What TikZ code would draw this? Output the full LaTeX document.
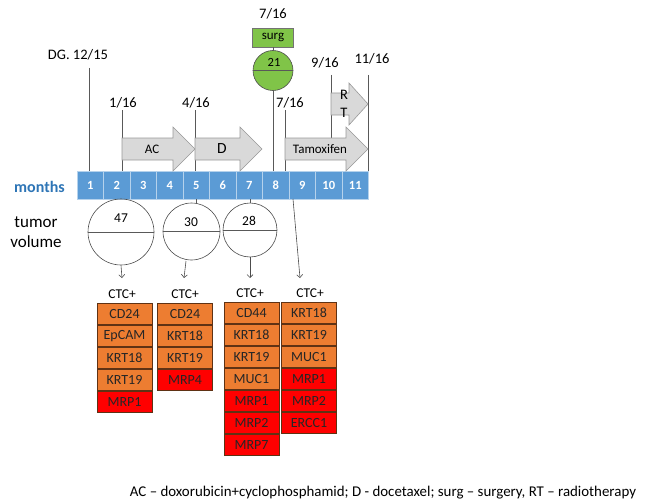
\documentclass[tikz,border=0pt]{standalone}
\usepackage{fontspec}
\setmainfont{Carlito}
\usetikzlibrary{arrows.meta,positioning}
\definecolor{barblue}{RGB}{91,155,213}
\definecolor{monthblue}{RGB}{46,117,182}
\definecolor{org}{RGB}{237,125,49}
\definecolor{redm}{RGB}{255,0,0}
\definecolor{surggreen}{RGB}{128,196,72}
\begin{document}
\begin{tikzpicture}[x=1pt,y=-1pt,
  lbl/.style={font=\fontsize{14.5}{14.5}\selectfont, inner sep=0},
  cell/.style={minimum width=26.5pt, minimum height=28pt, fill=barblue, draw=white!55!barblue, line width=0.6pt, text=white, font=\bfseries\fontsize{12.5}{12.5}\selectfont, inner sep=0},
  tl/.style={draw=black!65, line width=0.6pt},
  blockarr/.style={fill=black!15, draw=black!40, line width=0.6pt},
  mk/.style={minimum width=55pt, minimum height=21.33pt, draw=black!60!org, line width=0.6pt, inner sep=0, font=\fontsize{14}{14}\selectfont, text=black!85},
  ok/.style={mk, fill=org},
  bad/.style={mk, fill=redm},
  tum/.style={circle, draw=black!70, line width=0.6pt, inner sep=0},
  ptr/.style={draw=black!70, line width=0.6pt, -{Straight Barb[length=3pt,width=6pt]}},
  ctc/.style={font=\fontsize{13.5}{13.5}\selectfont, inner sep=0}
]
\useasboundingbox (0,0) rectangle (659,503);

% month bar
\foreach \i in {1,...,11}
  \node[cell] (m\i) at ({77+26.5*(\i-0.5)},185) {\i};
\node[font=\bfseries\fontsize{16}{16}\selectfont, text=monthblue, inner sep=0] (months) at (39.5,187) {months};

% timeline labels
\node[lbl] (dg) at (78,55) {DG. 12/15};
\node[lbl] (d116) at (123,103) {1/16};
\node[lbl] (d416) at (196,103) {4/16};
\node[lbl] (d716b) at (290,103) {7/16};
\node[lbl] (d916) at (325,63) {9/16};
\node[lbl] (d1116) at (372,59) {11/16};
\node[lbl] (d716a) at (273,14) {7/16};

% vertical lines
\coordinate (vdg) at (89,68);
\coordinate (v1) at (122,110);
\coordinate (v4) at (195,110);
\coordinate (v7) at (285,110);
\coordinate (v9) at (331,75);
\coordinate (v9b) at (331,138);
\coordinate (v11) at (368,75);
\draw[tl] (vdg) -- (vdg |- m1.north);
\draw[tl] (v1) -- (v1 |- m2.north);
\draw[tl] (v4) -- (v4 |- m5.north);
\draw[tl] (v7) -- (v7 |- m8.north);
\draw[tl] (v9) -- (v9b);
\draw[tl] (v11) -- (v11 |- m11.north);

% surgery
\node[fill=surggreen, draw=black!55, line width=0.6pt, minimum width=41pt, minimum height=19pt, inner sep=0, font=\fontsize{13}{13}\selectfont] (surg) at (273,37.5) {surg};
\node[tum, fill=surggreen, minimum size=40pt] (sc) at (273,70.5) {};
\draw[tl] (sc.west) -- (sc.east);
\node[ctc, font=\fontsize{12.5}{12.5}\selectfont] (s21) at (274,62) {21};
\draw[tl] (surg.south) -- (sc.north);
\draw[tl] (sc.south) -- (sc.south |- m8.north);

% block arrows
\draw[blockarr] (122,138) -- (173,138) -- (173,127) -- (195,149) -- (173,171) -- (173,160) -- (122,160) -- cycle;
\draw[blockarr] (195,138) -- (240,138) -- (240,127) -- (262,149) -- (240,171) -- (240,160) -- (195,160) -- cycle;
\draw[blockarr] (285,138) -- (346,138) -- (346,127) -- (368,149) -- (346,171) -- (346,160) -- (285,160) -- cycle;
\draw[blockarr] (331,93) -- (349,93) -- (349,83) -- (368,104) -- (349,125) -- (349,115) -- (331,115) -- cycle;
\node[ctc, font=\fontsize{13}{13}\selectfont] (ac) at (152,149) {AC};
\node[lbl, font=\fontsize{15.5}{15.5}\selectfont] (dd) at (222,149) {D};
\node[ctc, font=\fontsize{13}{13}\selectfont] (tam) at (320,149) {Tamoxifen};
\node[lbl] (rr) at (344,95) {R};
\node[lbl] (rt) at (344,113) {T};

% tumor volume
\node[font=\fontsize{17}{20}\selectfont, align=center, inner sep=0] (tv) at (36,232) {tumor\\volume};
\node[tum, minimum size=66pt] (c1) at (121,232) {};
\node[tum, minimum size=57pt] (c2) at (191.5,231.5) {};
\node[tum, minimum size=54pt] (c3) at (250,230) {};
\draw[tl] (c1.west) -- (c1.east);
\draw[tl] (c2.west) -- (c2.east);
\draw[tl] (c3.west) -- (c3.east);
\node[ctc] (t47) at (121,218) {47};
\node[ctc] (t30) at (191,222) {30};
\node[ctc] (t28) at (249,221) {28};
\draw[tl] (c2.north -| m5.south) -- (m5.south);
\draw[tl] (c3.north) -- (c3.north |- m7.south);

% CTC labels
\node[ctc] (ctc1) at (122,294) {CTC+};
\node[ctc] (ctc2) at (185,294) {CTC+};
\node[ctc] (ctc3) at (250,293) {CTC+};
\node[ctc] (ctc4) at (310,293) {CTC+};
\coordinate (b9) at (293,199);
\draw[ptr] (c1.south) -- (122,278);
\draw[ptr] (186,261) -- (184,278);
\draw[ptr] (c3.south) -- (250,278);
\draw[ptr] (b9) -- (300,278);

% marker columns
\node[ok]  (a1) at (124.5,314) {CD24};
\node[ok,  below=0pt of a1] (a2) {EpCAM};
\node[ok,  below=0pt of a2] (a3) {KRT18};
\node[ok,  below=0pt of a3] (a4) {KRT19};
\node[bad, below=0pt of a4] (a5) {MRP1};

\node[ok]  (b1) at (185,314) {CD24};
\node[ok,  below=0pt of b1] (b2) {KRT18};
\node[ok,  below=0pt of b2] (b3) {KRT19};
\node[bad, below=0pt of b3] (b4) {MRP4};

\node[ok]  (e1) at (251.5,313) {CD44};
\node[ok,  below=0pt of e1] (e2) {KRT18};
\node[ok,  below=0pt of e2] (e3) {KRT19};
\node[ok,  below=0pt of e3] (e4) {MUC1};
\node[bad, below=0pt of e4] (e5) {MRP1};
\node[bad, below=0pt of e5] (e6) {MRP2};
\node[bad, below=0pt of e6] (e7) {MRP7};

\node[ok]  (f1) at (309,313) {KRT18};
\node[ok,  below=0pt of f1] (f2) {KRT19};
\node[ok,  below=0pt of f2] (f3) {MUC1};
\node[bad, below=0pt of f3] (f4) {MRP1};
\node[bad, below=0pt of f4] (f5) {MRP2};
\node[bad, below=0pt of f5] (f6) {ERCC1};

% footer
\node[font=\fontsize{14.9}{14.9}\selectfont, inner sep=0, anchor=base] (foot) at (383,496) {AC -- doxorubicin+cyclophosphamid; D - docetaxel; surg -- surgery, RT -- radiotherapy};
\end{tikzpicture}
\end{document}
